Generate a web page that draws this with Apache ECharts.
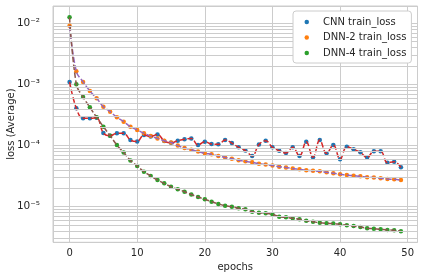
<!DOCTYPE html>
<html><head><meta charset="utf-8">
<script src="https://cdn.jsdelivr.net/npm/echarts@6/dist/echarts.min.js"></script>
<style>html,body{margin:0;padding:0;background:#fff}#c{width:424px;height:280px}</style>
</head><body><div id="c"></div>
<script>
const epochs = [0,1,2,3,4,5,6,7,8,9,10,11,12,13,14,15,16,17,18,19,20,21,22,23,24,25,26,27,28,29,30,31,32,33,34,35,36,37,38,39,40,41,42,43,44,45,46,47,48,49];
const cnnLoss = [1.10e-3,4.07e-4,2.79e-4,2.79e-4,2.84e-4,1.60e-4,1.45e-4,1.59e-4,1.59e-4,1.23e-4,
  1.17e-4,1.49e-4,1.41e-4,1.52e-4,1.19e-4,1.11e-4,1.20e-4,1.27e-4,1.31e-4,1.02e-4,
  1.16e-4,1.06e-4,1.05e-4,1.23e-4,1.10e-4,9.37e-5,8.30e-5,6.75e-5,1.04e-4,1.20e-4,
  9.37e-5,8.24e-5,7.56e-5,9.37e-5,6.75e-5,1.16e-4,6.43e-5,1.23e-4,7.47e-5,1.02e-4,
  5.96e-5,9.58e-5,8.69e-5,7.76e-5,6.38e-5,8.08e-5,8.10e-5,5.24e-5,5.45e-5,4.41e-5];
const dnn2Loss = [9.10e-3,1.64e-3,1.10e-3,7.81e-4,5.93e-4,4.32e-4,3.58e-4,2.90e-4,2.46e-4,2.04e-4,
  1.80e-4,1.59e-4,1.43e-4,1.31e-4,1.20e-4,1.12e-4,1.00e-4,9.12e-5,8.56e-5,7.99e-5,
  7.47e-5,7.19e-5,6.75e-5,6.38e-5,6.10e-5,5.74e-5,5.53e-5,5.32e-5,5.05e-5,4.90e-5,
  4.72e-5,4.51e-5,4.38e-5,4.22e-5,4.09e-5,3.94e-5,3.87e-5,3.79e-5,3.65e-5,3.52e-5,
  3.40e-5,3.30e-5,3.21e-5,3.14e-5,3.03e-5,3.01e-5,2.91e-5,2.84e-5,2.81e-5,2.73e-5];
const dnn4Loss = [1.254e-2,1.01e-3,6.23e-4,4.23e-4,2.90e-4,2.04e-4,1.45e-4,1.02e-4,7.70e-5,5.70e-5,
  4.63e-5,3.74e-5,3.18e-5,2.73e-5,2.41e-5,2.12e-5,1.93e-5,1.76e-5,1.58e-5,1.44e-5,
  1.32e-5,1.21e-5,1.11e-5,1.04e-5,1.00e-5,9.41e-6,9.06e-6,8.28e-6,7.97e-6,7.80e-6,
  7.51e-6,6.86e-6,6.71e-6,6.46e-6,6.22e-6,5.90e-6,5.68e-6,5.47e-6,5.35e-6,5.31e-6,
  5.15e-6,4.96e-6,4.83e-6,4.65e-6,4.44e-6,4.37e-6,4.27e-6,4.16e-6,4.12e-6,3.96e-6];
const xTicks = [0,10,20,30,40,50];
const yTickLabels = {'-5':'10\u207B\u2075', '-4':'10\u207B\u2074', '-3':'10\u207B\u00B3', '-2':'10\u207B\u00B2'};
const yMinorTicks = [3e-6,4e-6,5e-6,6e-6,7e-6,8e-6,9e-6,
  2e-5,3e-5,4e-5,5e-5,6e-5,7e-5,8e-5,9e-5,
  2e-4,3e-4,4e-4,5e-4,6e-4,7e-4,8e-4,9e-4,
  2e-3,3e-3,4e-3,5e-3,6e-3,7e-3,8e-3,9e-3];
const names = ['CNN train_loss','DNN-2 train_loss','DNN-4 train_loss'];

const FONT = 'DejaVu Sans';
const TXT = '#262626';
const GRID = '#cccccc';
const pair = arr => epochs.map((e,i)=>[e, arr[i]]);

const chart = echarts.init(document.getElementById('c'), null, {renderer:'canvas'});
const dotColors = ['#1f77b4','#ff7f0e','#2ca02c'];
const lineColors = ['#d62728','#9467bd','#8c564b'];
const sets = [cnnLoss, dnn2Loss, dnn4Loss];

const series = [{
  type:'line', name:'minorGrid', data:pair(cnnLoss), z:1, silent:true, symbol:'none',
  lineStyle:{opacity:0}, itemStyle:{opacity:0}, tooltip:{show:false},
  markLine:{silent:true, symbol:'none', animation:false, precision:10,
    label:{show:false},
    lineStyle:{color:GRID, type:'solid', width:1, opacity:1},
    emphasis:{disabled:true},
    data: yMinorTicks.map(v=>({yAxis:v}))}
}];
sets.forEach((s,i)=>{
  series.push({type:'scatter', name:names[i], data:pair(s), symbol:'circle', symbolSize:4.5,
    itemStyle:{color:dotColors[i], opacity:1}, z:2});
});
sets.forEach((s,i)=>{
  series.push({type:'line', name:'fit'+i, data:pair(s), symbol:'none', smooth:0.4,
    lineStyle:{color:lineColors[i], width:1.5, type:[5.5,2.4]}, z:3});
});

chart.setOption({
  animation:false,
  textStyle:{fontFamily:FONT},
  grid:{left:53, right:6.5, top:6, bottom:37.7, show:true, borderColor:GRID, borderWidth:1,
    containLabel:false, outerBoundsMode:'none'},
  legend:{data:names, orient:'vertical', left:293, top:11, icon:'circle', z:20,
    itemWidth:4.5, itemHeight:4.5, itemGap:3.5,
    padding:[5,5,4,11.5], backgroundColor:'#ffffff', borderColor:GRID, borderWidth:1, borderRadius:3,
    textStyle:{color:TXT, fontSize:10, fontFamily:FONT, lineHeight:12, padding:[0,0,0,9]}},
  xAxis:{type:'value', min:-2.45, max:51.45, splitNumber:5,
    name:'epochs', nameLocation:'middle', nameGap:20, nameMoveOverlap:false,
    nameTextStyle:{color:TXT, fontSize:10, fontFamily:FONT},
    axisLine:{show:false}, axisTick:{show:false},
    axisLabel:{color:TXT, fontSize:10, fontFamily:FONT, margin:6,
      formatter:v=> xTicks.some(t=>Math.abs(t-v)<1e-6) ? String(Math.round(v)) : ''},
    splitLine:{show:true, lineStyle:{color:GRID, width:1}}},
  yAxis:{type:'log', logBase:10, min:Math.pow(10,-5.582), max:Math.pow(10,-1.717),
    name:'loss (Average)', nameLocation:'middle', nameGap:37, nameMoveOverlap:false,
    nameTextStyle:{color:TXT, fontSize:10, fontFamily:FONT},
    axisLine:{show:false}, axisTick:{show:false},
    axisLabel:{color:TXT, fontSize:10.5, margin:13, fontFamily:FONT,
      formatter:v=>{const e=Math.log10(v); const r=Math.round(e);
        return Math.abs(e-r)<1e-6 ? (yTickLabels[String(r)]||'') : '';}},
    splitLine:{show:true, lineStyle:{color:GRID, width:1}}},
  series:series
});
</script></body></html>
